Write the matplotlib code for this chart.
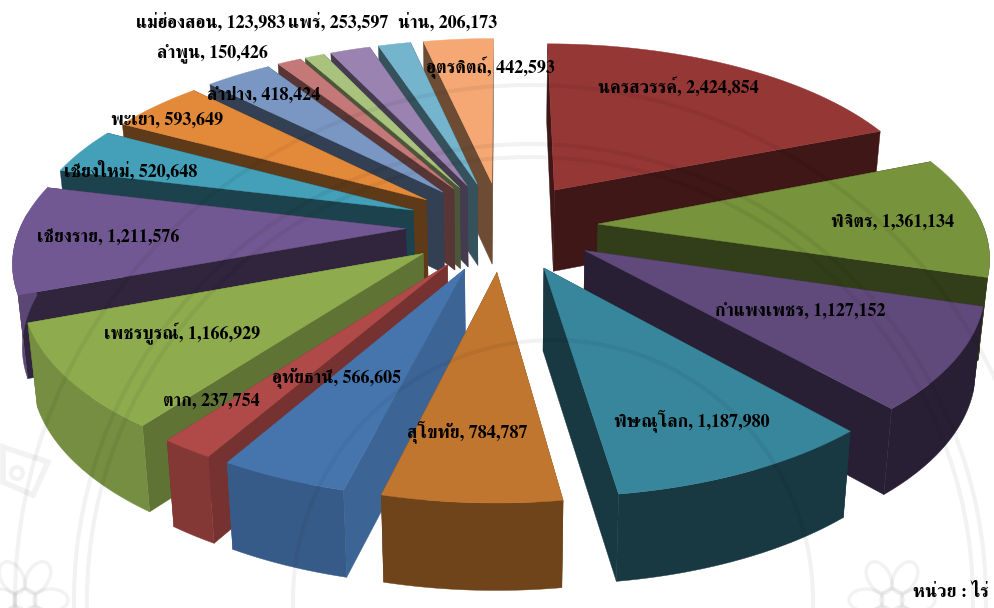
import numpy as np
import matplotlib
matplotlib.use("Agg")
import matplotlib.pyplot as plt
from matplotlib.patches import Polygon, Circle, Ellipse

provinces = ["นครสวรรค์", "พิจิตร", "กำแพงเพชร", "พิษณุโลก", "สุโขทัย", "อุทัยธานี", "ตาก",
             "เพชรบูรณ์", "เชียงราย", "เชียงใหม่", "พะเยา", "ลำปาง", "ลำพูน",
             "แม่ฮ่องสอน", "แพร่", "น่าน", "อุตรดิตถ์"]
areas = [2424854, 1361134, 1127152, 1187980, 784787, 566605, 237754,
         1166929, 1211576, 520648, 593649, 418424, 150426,
         123983, 253597, 206173, 442593]
unit_label = "หน่วย : ไร่"

colors = ["#953735", "#77933C", "#604A7B", "#38869C", "#C0762F", "#4675AE", "#B04A48",
          "#8EAB4E", "#725892", "#43A0B8", "#E38A3A", "#7A97C4", "#C47877",
          "#A9C27E", "#9A83B0", "#74B4CC", "#F5A873"]
outer_shade = [.45, .42, .42, .42, .58, .78, .75, .83, .80, .70, .70, .42, .42, .42, .42, .42, .42]
edge_shade = [.42, .42, .42, .42, .50, .86, .67, .67, .42, .42, .42, .42, .45, .45, .45, .45, .45]

label_xy = [(678, 88), (893, 222), (800, 311), (692, 421), (467, 432), (337, 378), (211, 401),
            (182, 334), (108, 238), (131, 171), (167, 120), (264, 95), (212, 53),
            (211, 22), (338, 22), (448, 22), (490, 68)]

cx, cy = 502, 226
scale_x, scale_y = 385, 179
persp = 0.154
explode = 0.25


def project(gx, gy, low=False):
    w = 1 + persp * gy
    sx = cx + scale_x * gx / w
    sy = cy - scale_y * gy / w
    if low:
        sx = cx + (sx - cx) * 0.98
        sy = sy + 82 / (1 + 0.05 * gy)
    return sx, sy


def face(gx, gy, color, z):
    x0, y0 = project(gx, gy)
    x1, y1 = project(gx, gy, low=True)
    xs = np.concatenate([x0, x1[::-1]])
    ys = np.concatenate([y0, y1[::-1]])
    ax.add_patch(Polygon(np.c_[xs, ys], closed=True, fc=color, ec=color, lw=0.3, zorder=z))


def shade(color, f):
    return tuple(c * f for c in matplotlib.colors.to_rgb(color))


def flower(x, y):
    for a in np.arange(0, 360, 60):
        px = x + 26 * np.cos(np.radians(a))
        py = y + 26 * np.sin(np.radians(a))
        ax.add_patch(Ellipse((px, py), 34, 22, angle=a, fc="none", ec="black", alpha=0.05, lw=2.5, zorder=40))
    ax.add_patch(Circle((x, y), 11, fc="none", ec="black", alpha=0.05, lw=2.5, zorder=40))


fig = plt.figure(figsize=(9.94, 6.08), dpi=100)
ax = fig.add_axes([0, 0, 1, 1])
ax.set_xlim(0, 994)
ax.set_ylim(608, 0)
ax.axis("off")

vals = np.array(areas, dtype=float)
edges = np.concatenate([[0], np.cumsum(vals)]) / vals.sum() * 2 * np.pi
mids = (edges[:-1] + edges[1:]) / 2
order = np.argsort(-np.cos(mids))

for n, i in enumerate(order):
    t = np.linspace(edges[i], edges[i + 1], 40)
    ox, oy = explode * np.sin(mids[i]), explode * np.cos(mids[i])
    gx, gy = ox + np.sin(t), oy + np.cos(t)
    z = 2 + n
    for e in (0, -1):
        face(np.array([ox, gx[e]]), np.array([oy, gy[e]]), shade(colors[i], edge_shade[i]), z)
    # only the part of the rim that faces the viewer
    front = np.cos(t) < 0.1
    if front.sum() > 1:
        face(gx[front], gy[front], shade(colors[i], outer_shade[i]), z)
    sx, sy = project(np.r_[ox, gx], np.r_[oy, gy])
    ax.add_patch(Polygon(np.c_[sx, sy], closed=True, fc=colors[i], ec=colors[i], lw=0.3, zorder=z))

# watermark
for r in (443, 456, 515):
    ax.add_patch(Circle((530, 600), r, fc="none", ec="black", alpha=0.05, lw=3, zorder=40))
ax.add_patch(Circle((553, 600), 260, fc="none", ec="black", alpha=0.05, lw=3, zorder=40))
flower(25, 600)
flower(892, 600)
ax.add_patch(Polygon([(3, 447), (48, 462), (33, 495), (3, 482)], closed=True, fc="none", ec="black",
                     alpha=0.05, lw=4, zorder=40))
ax.add_patch(Circle((17, 473), 6, fc="none", ec="black", alpha=0.05, lw=3, zorder=40))

font = ["FreeSerif", "Liberation Serif", "DejaVu Sans"]
for name, val, (x, y) in zip(provinces, areas, label_xy):
    ax.text(x, y, f"{name}, {val:,}", ha="center", va="center", fontsize=13, fontweight="bold",
            family=font, color="black", zorder=50)
ax.text(951, 592, unit_label, ha="center", va="center", fontsize=13, fontweight="bold",
        family=font, zorder=50)

fig.savefig("out.png", dpi=100)
